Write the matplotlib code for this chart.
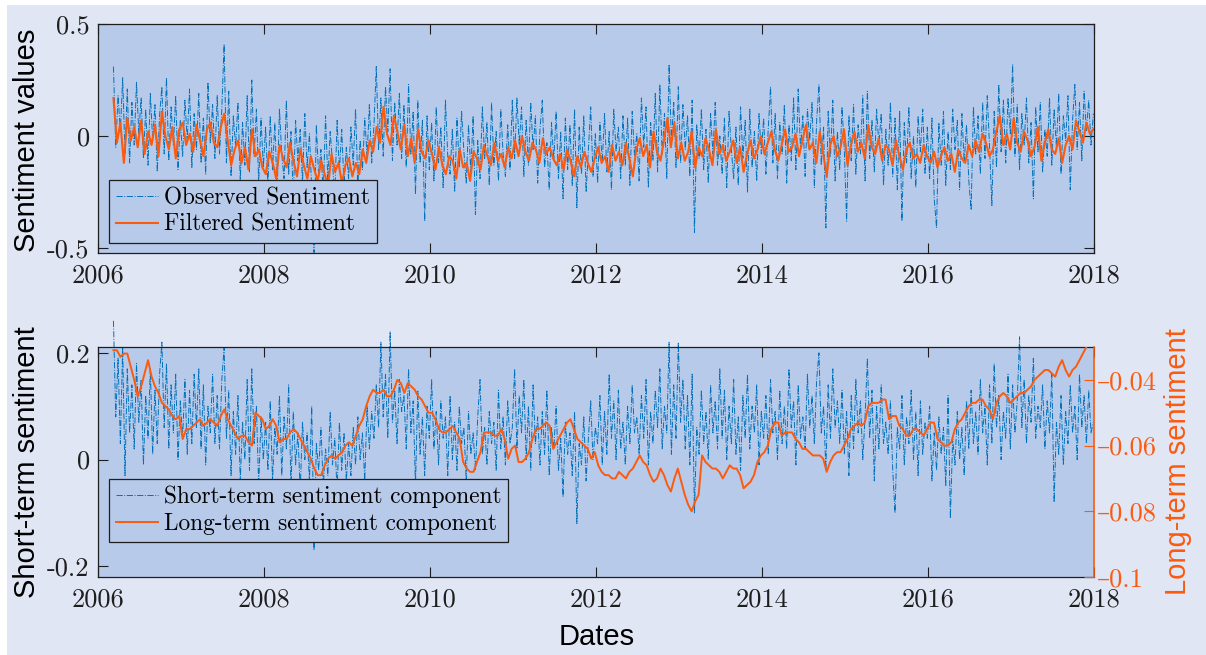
'''plot.py

   Observed / filtered sentiment and its short- and long-term parts
'''

import numpy as np
import pandas as pd
import matplotlib
matplotlib.use('Agg')
import matplotlib.pyplot as plt
from matplotlib.patches import Rectangle
from datetime import datetime


#
#  Data.
#
# Observed sentiment, three readings per month, Mar 2006 .. Dec 2017.
observed = [
    0.31, -0.05, 0.18, 0.02, 0.26, -0.08, 0.21, -0.12, 0.15, -0.04, 0.24, 0.01,
    0.17, -0.10, 0.12, -0.13, 0.19, -0.02, 0.14, -0.16, 0.09, 0.22, -0.08, 0.26,
    -0.11, 0.13, -0.04, 0.18, -0.15, 0.07,
    # 2007
    -0.09, 0.16, -0.02, 0.21, -0.14, 0.10, -0.06, 0.19, -0.12, 0.08, -0.17, 0.24,
    -0.03, 0.14, -0.10, 0.18, -0.08, 0.12, 0.41, -0.12, 0.20, -0.18, 0.09, -0.05,
    0.15, -0.20, 0.06, -0.13, 0.18, -0.16, 0.25, -0.09, 0.12, -0.21, 0.08, -0.14,
    # 2008
    0.04, -0.22, 0.09, -0.15, 0.06, -0.25, 0.12, -0.08, -0.19, 0.16, -0.17, 0.02,
    -0.28, 0.07, -0.11, 0.03, -0.21, 0.10, -0.14, 0.01, -0.24, -0.52, 0.05, -0.18,
    -0.06, -0.26, 0.09, -0.20, 0.02, -0.12, -0.27, 0.07, -0.16, 0.03, -0.22, -0.05,
    # 2009
    -0.19, 0.04, -0.13, 0.12, -0.21, -0.02, -0.15, 0.08, -0.09, 0.14, -0.12, 0.05,
    0.31, -0.06, 0.17, -0.09, 0.22, 0.02, 0.30, -0.11, 0.15, -0.04, 0.19, -0.10,
    0.14, -0.14, 0.23, -0.08, 0.11, -0.26, 0.16, -0.12, 0.07, -0.38, 0.09, -0.15,
    # 2010
    0.06, -0.20, 0.13, -0.12, 0.04, -0.23, 0.16, -0.09, -0.17, 0.03, -0.25, 0.08,
    -0.14, 0.11, -0.07, -0.21, 0.05, -0.16, 0.09, -0.35, -0.02, -0.19, 0.13, -0.10,
    0.06, -0.22, 0.15, -0.13, 0.02, -0.20, 0.12, -0.08, -0.18, 0.05, -0.15, 0.16,
    # 2011
    -0.10, 0.17, -0.04, 0.13, -0.18, 0.07, -0.13, 0.15, -0.06, 0.09, -0.21, 0.03,
    0.16, -0.14, -0.03, -0.24, 0.06, -0.11, 0.11, -0.19, 0.02, -0.28, 0.08, -0.15,
    0.05, -0.22, 0.12, -0.32, 0.04, -0.17, 0.09, -0.25, -0.06, 0.13, -0.18, 0.01,
    # 2012
    -0.21, 0.06, -0.12, 0.10, -0.16, 0.02, -0.24, 0.12, -0.07, 0.04, -0.19, 0.09,
    -0.13, 0.08, -0.22, 0.11, -0.09, 0.01, -0.20, 0.17, -0.05, 0.13, -0.23, 0.06,
    -0.11, 0.19, -0.16, 0.23, -0.08, 0.10, -0.19, 0.32, -0.03, 0.15, -0.14, 0.22,
    # 2013
    -0.12, 0.14, -0.06, 0.09, -0.18, 0.16, -0.43, 0.05, -0.10, 0.12, -0.15, 0.03,
    -0.21, 0.10, -0.08, 0.15, -0.13, 0.00, -0.17, 0.08, -0.23, 0.11, -0.06, -0.19,
    0.04, -0.22, 0.13, -0.10, 0.07, -0.25, 0.12, -0.14, 0.02, -0.20, 0.10, -0.08,
    # 2014
    0.08, -0.17, 0.03, 0.22, -0.12, 0.10, -0.19, 0.06, -0.08, 0.14, -0.21, 0.05,
    -0.11, 0.17, -0.15, 0.21, -0.06, 0.09, -0.18, 0.12, -0.02, 0.15, -0.23, 0.07,
    0.23, -0.13, 0.04, -0.41, 0.11, -0.09, 0.16, -0.20, 0.02, -0.15, 0.13, -0.06,
    # 2015
    -0.38, 0.09, -0.11, 0.14, -0.17, 0.05, -0.08, 0.18, -0.20, 0.20, -0.10, 0.07,
    -0.16, 0.12, -0.04, 0.10, -0.22, 0.03, -0.13, 0.15, -0.18, 0.08, -0.24, 0.11,
    -0.38, 0.06, -0.12, 0.13, -0.19, 0.00, -0.23, 0.09, -0.07, 0.12, -0.17, 0.04,
    # 2016
    -0.19, 0.08, -0.28, -0.41, 0.06, -0.13, 0.11, -0.22, 0.02, -0.15, 0.12, -0.06,
    0.07, -0.24, 0.10, -0.12, 0.05, -0.20, -0.33, 0.13, -0.08, 0.09, -0.17, 0.15,
    -0.10, 0.18, -0.05, -0.31, 0.11, -0.14, 0.23, -0.07, 0.16, -0.12, 0.17, 0.01,
    # 2017
    0.32, -0.09, 0.14, -0.15, 0.10, -0.04, 0.17, -0.12, 0.06, -0.28, 0.13, -0.07,
    0.15, -0.16, 0.03, -0.09, 0.17, -0.13, 0.12, -0.05, 0.19, -0.17, 0.09, -0.02,
    0.18, -0.24, 0.07, 0.23, -0.06, 0.15, -0.11, 0.20, 0.02, 0.16, -0.04, 0.10,
]

# Filtered sentiment, two readings per month.
filtered = [
    0.17, -0.03, 0.06, -0.12, 0.08, -0.02, 0.04, -0.05, 0.07, -0.08,
    0.02, -0.04, 0.05, -0.09, 0.11, 0.00, -0.06, 0.04, -0.10, 0.03,
    # 2007
    0.06, -0.04, 0.01, -0.07, 0.05, -0.02, -0.09, 0.03, 0.06, -0.03, -0.05, 0.04,
    0.10, -0.02, -0.13, -0.06, -0.02, -0.12, -0.05, -0.15, 0.03, -0.09, -0.06, -0.14,
    # 2008
    -0.17, -0.07, -0.12, -0.19, -0.04, -0.10, -0.14, -0.03, -0.11, -0.18, -0.06, -0.13,
    -0.19, -0.09, -0.15, -0.20, -0.11, -0.17, -0.22, -0.08, -0.16, -0.12, -0.21, -0.13,
    # 2009
    -0.10, -0.18, -0.12, -0.17, -0.06, -0.12, -0.02, -0.07, 0.04, -0.03, 0.13, 0.01,
    -0.04, 0.09, 0.02, -0.06, 0.05, -0.09, -0.01, -0.12, 0.03, -0.07, -0.10, -0.02,
    # 2010
    -0.08, -0.15, -0.05, -0.13, -0.17, -0.09, -0.11, -0.19, -0.06, -0.14, -0.12, -0.20,
    -0.07, -0.10, -0.15, -0.04, -0.09, -0.13, -0.03, -0.11, -0.08, -0.14, -0.05, -0.10,
    # 2011
    -0.02, -0.09, 0.00, -0.07, -0.11, -0.03, -0.06, -0.12, -0.01, -0.08, -0.05, -0.10,
    -0.13, -0.08, -0.15, -0.06, -0.11, -0.18, -0.09, -0.14, -0.07, -0.12, -0.16, -0.10,
    # 2012
    -0.05, -0.12, -0.09, -0.16, -0.04, -0.11, -0.07, -0.13, -0.03, -0.10, -0.18, -0.06,
    -0.01, -0.09, -0.04, -0.14, 0.02, -0.07, -0.11, -0.02, 0.08, -0.05, 0.06, -0.10,
    # 2013
    -0.03, -0.11, -0.07, 0.02, -0.14, -0.05, -0.09, -0.01, -0.06, -0.13, 0.03, -0.08,
    -0.04, -0.11, -0.07, -0.02, -0.12, -0.05, -0.16, -0.08, -0.02, -0.10, -0.06, 0.00,
    # 2014
    -0.08, -0.03, 0.02, -0.06, -0.11, -0.04, 0.03, -0.07, -0.05, 0.01, -0.09, -0.02,
    0.05, -0.06, -0.03, -0.12, 0.02, -0.08, -0.18, -0.04, 0.00, -0.09, -0.05, 0.03,
    # 2015
    -0.13, -0.04, 0.02, -0.07, -0.03, -0.10, 0.05, -0.05, -0.08, -0.01, -0.11, -0.04,
    -0.06, -0.13, -0.02, -0.09, -0.15, -0.06, -0.03, -0.10, -0.08, -0.12, -0.04, -0.09,
    # 2016
    -0.12, -0.07, -0.14, -0.09, -0.05, -0.11, -0.08, -0.16, -0.06, -0.10, -0.12, -0.04,
    -0.09, -0.02, -0.07, 0.01, -0.03, -0.09, -0.06, 0.02, 0.09, -0.04, 0.01, -0.06,
    # 2017
    0.08, -0.03, -0.07, 0.02, -0.02, -0.09, -0.05, 0.04, -0.11, -0.03, 0.03, -0.06,
    -0.08, -0.01, -0.12, -0.04, 0.00, -0.06, 0.07, 0.02, -0.03, 0.06, 0.01, 0.03,
]

# Short-term sentiment component, three readings per month.
short_term = [
    0.26, 0.08, 0.19, 0.03, 0.21, -0.03, 0.17, 0.05, 0.14, 0.02, 0.18, 0.07,
    0.15, -0.01, 0.12, 0.04, 0.17, 0.01, 0.13, 0.03, 0.16, 0.22, 0.06, 0.18,
    0.02, 0.14, 0.05, 0.16, 0.00, 0.11,
    # 2007
    0.04, 0.15, 0.01, 0.13, 0.03, 0.16, 0.06, 0.17, 0.02, 0.14, -0.01, 0.10,
    0.05, 0.16, 0.03, 0.12, 0.02, 0.15, 0.21, 0.04, 0.13, -0.03, 0.09, 0.01,
    0.12, -0.04, 0.07, 0.00, 0.15, -0.02, 0.17, 0.03, 0.10, -0.05, 0.08, 0.00,
    # 2008
    0.07, -0.02, 0.11, -0.04, 0.06, 0.01, 0.12, -0.03, 0.08, 0.02, 0.14, -0.05,
    0.09, -0.01, 0.05, -0.06, 0.07, 0.00, 0.05, -0.04, 0.10, -0.17, 0.03, -0.02,
    0.06, -0.05, 0.02, -0.03, 0.09, -0.01, 0.04, -0.06, 0.07, -0.02, 0.05, -0.04,
    # 2009
    0.03, -0.03, 0.06, -0.01, 0.08, 0.00, 0.05, -0.04, 0.10, 0.02, 0.09, 0.04,
    0.14, 0.06, 0.22, 0.08, 0.16, 0.04, 0.24, 0.07, 0.13, 0.03, 0.15, 0.09,
    0.12, 0.02, 0.17, 0.05, 0.11, -0.05, 0.13, 0.01, 0.08, -0.03, 0.10, 0.04,
    # 2010
    0.15, 0.02, 0.09, -0.01, 0.11, 0.04, 0.08, -0.03, 0.12, 0.00, 0.07, -0.02,
    0.10, 0.03, 0.06, -0.04, 0.09, 0.01, 0.05, -0.02, 0.08, 0.15, 0.01, 0.06,
    -0.01, 0.09, 0.03, 0.07, -0.02, 0.13, 0.02, 0.08, -0.01, 0.11, 0.03, 0.06,
    # 2011
    0.17, 0.02, 0.12, 0.05, 0.15, 0.00, 0.10, -0.02, 0.14, 0.03, 0.08, -0.01,
    0.09, 0.01, 0.13, -0.03, 0.06, 0.02, 0.10, -0.02, 0.04, -0.07, 0.07, 0.01,
    0.05, -0.03, 0.09, -0.12, 0.03, -0.01, 0.08, -0.04, 0.04, 0.11, 0.00, 0.06,
    # 2012
    0.03, 0.12, -0.01, 0.09, 0.01, 0.16, 0.04, 0.11, 0.00, 0.13, 0.02, 0.07,
    -0.01, 0.10, 0.03, 0.14, 0.05, 0.08, 0.01, 0.12, 0.04, 0.15, -0.01, 0.09,
    0.03, 0.13, 0.06, 0.17, 0.02, 0.10, 0.05, 0.22, 0.01, 0.14, 0.04, 0.22,
    # 2013
    0.07, 0.15, 0.02, 0.12, -0.01, 0.16, -0.10, 0.06, 0.01, 0.13, 0.03, 0.09,
    0.00, 0.14, 0.05, 0.11, 0.02, 0.17, 0.04, 0.13, 0.00, 0.10, 0.03, 0.15,
    0.01, 0.08, -0.02, 0.12, 0.04, 0.16, 0.02, 0.10, 0.05, 0.14, -0.01, 0.09,
    # 2014
    0.04, 0.12, 0.01, 0.15, 0.05, 0.09, 0.00, 0.13, 0.03, 0.10, 0.02, 0.17,
    0.06, 0.11, -0.01, 0.14, 0.04, 0.08, 0.02, 0.16, 0.06, 0.12, 0.03, 0.15,
    0.20, 0.05, 0.10, -0.02, 0.14, 0.04, 0.17, 0.06, 0.11, 0.03, 0.13, 0.01,
    # 2015
    0.09, -0.03, 0.12, 0.02, 0.15, 0.05, 0.11, 0.00, 0.08, 0.19, 0.04, 0.13,
    -0.04, 0.10, 0.02, 0.14, 0.03, 0.07, 0.01, 0.11, -0.02, -0.10, 0.06, 0.02,
    0.12, -0.01, 0.08, 0.03, 0.13, 0.00, 0.09, -0.03, 0.11, 0.01, 0.07, 0.04,
    # 2016
    0.10, -0.04, 0.05, -0.02, 0.08, 0.01, 0.06, -0.05, 0.12, -0.11, 0.04, -0.01,
    0.09, 0.00, 0.06, -0.03, 0.11, 0.02, 0.13, 0.03, 0.09, 0.01, 0.15, 0.05,
    0.10, -0.01, 0.14, 0.03, 0.18, 0.06, 0.12, 0.00, 0.09, 0.04, 0.16, 0.02,
    # 2017
    0.14, 0.05, 0.11, 0.23, 0.06, 0.15, 0.03, 0.12, 0.07, 0.19, 0.04, 0.10,
    0.06, 0.14, 0.02, 0.11, 0.05, 0.16, -0.08, 0.07, 0.01, 0.12, -0.01, 0.09,
    0.03, 0.14, 0.05, 0.10, 0.00, 0.16, 0.06, 0.12, 0.03, 0.13, 0.05, 0.07,
]

# Long-term sentiment component, two readings per month.
long_term = [
    -0.031, -0.031, -0.033, -0.032, -0.032, -0.036, -0.040, -0.045, -0.042, -0.038,
    -0.034, -0.039, -0.042, -0.044, -0.047, -0.048, -0.049, -0.051, -0.052, -0.051,
    # 2007
    -0.058, -0.055, -0.055, -0.054, -0.053, -0.052, -0.054, -0.053, -0.052, -0.053, -0.054, -0.051,
    -0.049, -0.052, -0.054, -0.056, -0.058, -0.057, -0.057, -0.059, -0.060, -0.050, -0.051, -0.052,
    # 2008
    -0.055, -0.054, -0.052, -0.054, -0.059, -0.058, -0.058, -0.056, -0.055, -0.056, -0.058, -0.060,
    -0.062, -0.064, -0.067, -0.069, -0.069, -0.066, -0.064, -0.063, -0.064, -0.063, -0.062, -0.060,
    # 2009
    -0.059, -0.060, -0.057, -0.054, -0.052, -0.048, -0.045, -0.043, -0.044, -0.044, -0.043, -0.045,
    -0.045, -0.043, -0.040, -0.041, -0.044, -0.041, -0.042, -0.043, -0.045, -0.046, -0.048, -0.050,
    # 2010
    -0.050, -0.052, -0.055, -0.056, -0.056, -0.055, -0.054, -0.056, -0.058, -0.065, -0.067, -0.068,
    -0.068, -0.065, -0.062, -0.056, -0.056, -0.056, -0.057, -0.057, -0.055, -0.058, -0.064, -0.061,
    # 2011
    -0.060, -0.065, -0.065, -0.064, -0.062, -0.058, -0.055, -0.055, -0.054, -0.053, -0.054, -0.061,
    -0.059, -0.057, -0.055, -0.053, -0.052, -0.055, -0.058, -0.059, -0.060, -0.061, -0.064, -0.062,
    # 2012
    -0.066, -0.068, -0.069, -0.069, -0.070, -0.070, -0.068, -0.069, -0.070, -0.068, -0.067, -0.065,
    -0.063, -0.065, -0.066, -0.069, -0.071, -0.070, -0.067, -0.069, -0.072, -0.074, -0.070, -0.067,
    # 2013
    -0.071, -0.075, -0.078, -0.080, -0.077, -0.075, -0.063, -0.065, -0.066, -0.067, -0.067, -0.068,
    -0.070, -0.068, -0.066, -0.067, -0.067, -0.069, -0.073, -0.072, -0.071, -0.069, -0.065, -0.063,
    # 2014
    -0.062, -0.060, -0.055, -0.053, -0.053, -0.057, -0.056, -0.056, -0.056, -0.058, -0.059, -0.061,
    -0.061, -0.062, -0.063, -0.063, -0.063, -0.064, -0.068, -0.065, -0.063, -0.062, -0.062, -0.060,
    # 2015
    -0.058, -0.055, -0.054, -0.053, -0.054, -0.053, -0.048, -0.047, -0.047, -0.047, -0.046, -0.046,
    -0.052, -0.051, -0.051, -0.054, -0.055, -0.057, -0.057, -0.055, -0.055, -0.056, -0.057, -0.055,
    # 2016
    -0.053, -0.053, -0.058, -0.059, -0.060, -0.060, -0.059, -0.055, -0.053, -0.052, -0.050, -0.048,
    -0.047, -0.047, -0.046, -0.046, -0.048, -0.049, -0.052, -0.047, -0.045, -0.044, -0.045, -0.047,
    # 2017
    -0.046, -0.045, -0.044, -0.044, -0.043, -0.042, -0.040, -0.039, -0.038, -0.037, -0.037, -0.038,
    -0.039, -0.036, -0.034, -0.037, -0.039, -0.037, -0.036, -0.034, -0.032, -0.030, -0.029, -0.028,
]

years = [2006, 2008, 2010, 2012, 2014, 2016, 2018]
top_yticks = [0.5, 0, -0.5]
top_ylabels = ['0.5', '0', '-0.5']
short_yticks = [0.2, 0, -0.2]
short_ylabels = ['0.2', '0', '-0.2']
long_yticks = [-0.04, -0.06, -0.08, -0.1]
long_ylabels = ['\u20130.04', '\u20130.06', '\u20130.08', '\u20130.1']


#
#  Colours and fonts.
#
BLUE   = '#0072BD'
ORANGE = '#FC5A0E'
AXBG   = '#B8CAE9'
FIGBG  = '#E0E6F3'
DARK   = '#1E1E1E'

plt.rcParams['font.family'] = ['cmr10', 'DejaVu Serif']
plt.rcParams['mathtext.fontset'] = 'cm'
SANS = 'Liberation Sans'

W, H = 1206, 655

def dates(values):
    return pd.date_range('2006-03-10', '2017-12-29', periods=len(values))


#
#  Figure and axes.
#
fig = plt.figure(figsize=(W/100, H/100), dpi=100, facecolor='white')
fig.patches.append(Rectangle((7/W, 0), 1, 650/H, transform=fig.transFigure,
                             facecolor=FIGBG, edgecolor='none', zorder=-10))

ax1 = fig.add_axes([98/W, 1 - 253/H, 996/W, 229/H])
ax2 = fig.add_axes([98/W, 1 - 577/H, 996/W, 230/H])
ax2r = ax2.twinx()

xlim = (datetime(2006, 1, 1), datetime(2018, 1, 1))
xticks = [datetime(y, 1, 1) for y in years]

for ax in (ax1, ax2):
    ax.set_facecolor(AXBG)
    for s in ax.spines.values():
        s.set_color(DARK)
        s.set_linewidth(0.9)
    ax.set_xlim(*xlim)
    ax.set_xticks(xticks)
    ax.set_xticklabels([str(y) for y in years])
    ax.tick_params(direction='in', length=7, width=0.8, colors=DARK,
                   labelsize=19, top=True, right=True)
    ax.tick_params(axis='x', pad=8)
    ax.tick_params(axis='y', pad=6)

ax2.tick_params(right=False)
ax2.spines['right'].set_visible(False)

legend_style = dict(loc='lower left', borderaxespad=0, fancybox=False,
                    edgecolor=DARK, facecolor=AXBG, framealpha=1, fontsize=16.8,
                    handlelength=1.8, handletextpad=0.25, borderpad=0.3,
                    labelspacing=0.2)


#
#  Top: observed and filtered.
#
ax1.plot(dates(observed), observed, color=BLUE, linestyle='-.', linewidth=0.7,
         label='Observed Sentiment', clip_on=False)
ax1.plot(dates(filtered), filtered, color=ORANGE, linestyle='-', linewidth=1.5,
         label='Filtered Sentiment')
ax1.set_ylim(-0.522, 0.5)
ax1.set_yticks(top_yticks)
ax1.set_yticklabels(top_ylabels)

leg1 = ax1.legend(bbox_to_anchor=(0.011, 0.044), **legend_style)
leg1.get_frame().set_linewidth(0.9)


#
#  Bottom: short-term (left) and long-term (right).
#
l1, = ax2.plot(dates(short_term), short_term, color=BLUE, linestyle='-.',
               linewidth=0.7, label='Short-term sentiment component', clip_on=False)
ax2.set_ylim(-0.22, 0.211)
ax2.set_yticks(short_yticks)
ax2.set_yticklabels(short_ylabels)

l2, = ax2r.plot(dates(long_term), long_term, color=ORANGE, linestyle='-',
                linewidth=1.4, label='Long-term sentiment component')
ax2r.set_xlim(*xlim)
ax2r.set_ylim(-0.1, -0.03)
ax2r.set_yticks(long_yticks)
ax2r.set_yticklabels(long_ylabels)
ax2r.tick_params(axis='y', direction='in', length=7, width=0.8, colors=ORANGE,
                 labelsize=19, pad=2)
for side, s in ax2r.spines.items():
    s.set_visible(side == 'right')
ax2r.spines['right'].set_color(ORANGE)
ax2r.spines['right'].set_linewidth(1.2)

leg2 = ax2r.legend(handles=[l1, l2], bbox_to_anchor=(0.011, 0.152), **legend_style)
leg2.get_frame().set_linewidth(0.9)


#
#  Axis labels (sans serif).
#
fig.text(27/W, 1 - 140/H, 'Sentiment values', rotation=90, ha='center',
         va='center', fontsize=21, family=SANS, color='black')
fig.text(27/W, 1 - 462/H, 'Short-term sentiment', rotation=90, ha='center',
         va='center', fontsize=21, family=SANS, color='black')
fig.text(1178/W, 1 - 462/H, 'Long-term sentiment', rotation=90, ha='center',
         va='center', fontsize=21, family=SANS, color=ORANGE)
fig.text(597/W, 1 - 637/H, 'Dates', ha='center', va='center', fontsize=21,
         family=SANS, color='black')

fig.savefig('out.png', dpi=100, facecolor='white')
